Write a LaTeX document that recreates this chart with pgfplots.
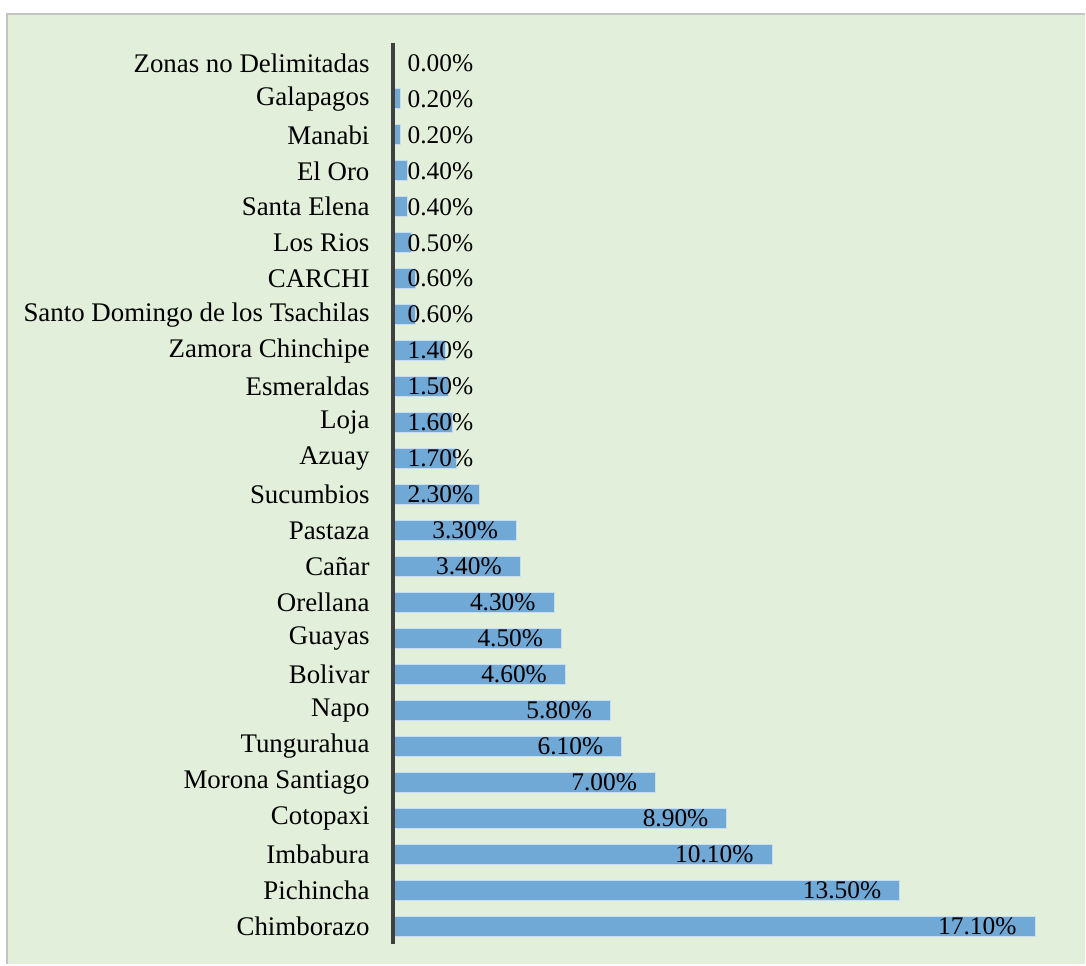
\documentclass[border=0pt]{standalone}
\usepackage{fontspec}
\setmainfont{Liberation Serif}
\usepackage{pgfplots}
\usepackage{pgfplotstable}
\pgfplotsset{compat=1.18}
\definecolor{bg}{RGB}{226,239,218}
\definecolor{barc}{RGB}{112,168,214}
\definecolor{baredge}{RGB}{200,222,240}
\definecolor{axc}{RGB}{64,64,64}
\definecolor{frame}{RGB}{196,196,196}
\pgfplotstableread{
y v
0 17.1
1 13.5
2 10.1
3 8.9
4 7.0
5 6.1
6 5.8
7 4.6
8 4.5
9 4.3
10 3.4
11 3.3
12 2.3
13 1.7
14 1.6
15 1.5
16 1.4
17 0.6
18 0.6
19 0.5
20 0.4
21 0.4
22 0.2
23 0.2
24 0.0
}\data
\begin{document}
\begin{tikzpicture}
\fill[white] (0,0) rectangle (1086bp,965bp);
\fill[bg] (7bp,0) rectangle (1086bp,951bp);
\draw[frame, line width=2bp] (7bp,0) -- (7bp,951bp) -- (1086bp,951bp);
\path[use as bounding box] (0,0) rectangle (1086bp,965bp);
\begin{axis}[
  at={(393bp,20bp)}, anchor=south west,
  scale only axis, width=676.8bp, height=900bp,
  xmin=0, xmax=18, ymin=-0.5, ymax=24.5,
  axis x line=none, axis y line=left,
  y axis line style={draw=none},
  ytick={0,...,24},
  yticklabels={Chimborazo,Pichincha,Imbabura,Cotopaxi,Morona Santiago,Tungurahua,Napo,Bolivar,Guayas,Orellana,Cañar,Pastaza,Sucumbios,Azuay,Loja,Esmeraldas,Zamora Chinchipe,Santo Domingo de los Tsachilas,CARCHI,Los Rios,Santa Elena,El Oro,Manabi,Galapagos,Zonas no Delimitadas},
  major tick length=0pt,
  ytick style={draw=none},
  yticklabel style={font=\fontsize{27}{30}\selectfont, anchor=east, inner sep=0pt, xshift=-23bp},
  /pgf/number format/assume math mode=true,
  clip=false,
]
\addplot[xbar, bar width=20bp, bar shift=0pt, fill=barc, draw=baredge, line width=1bp] table[x=v, y=y] {\data};
\addplot[draw=none, mark=none, forget plot,
  nodes near coords={\pgfmathprintnumber[fixed, fixed zerofill, precision=2]{\pgfplotspointmeta}\%},
  every node near coord/.append style={anchor=east, inner sep=0pt, font=\fontsize{25.5}{30}\selectfont, text=black},
  point meta=explicit]
  table[x expr={max(\thisrow{v}-0.49,2.15)}, y=y, meta=v] {\data};
\draw[axc, line width=4bp] (axis cs:0,-0.5) -- (axis cs:0,24.55);
\end{axis}
\end{tikzpicture}
\end{document}
